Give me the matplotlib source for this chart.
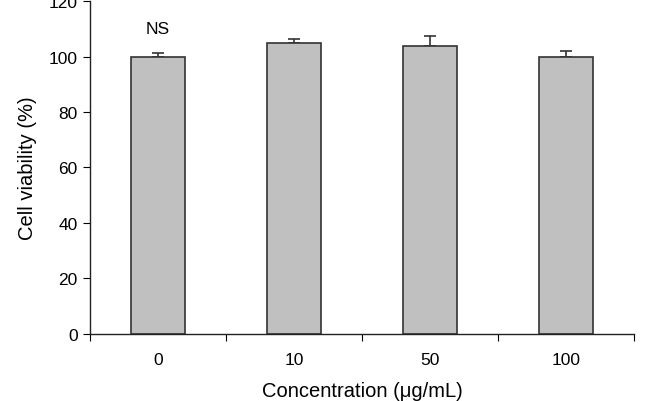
import numpy as np
import matplotlib.pyplot as plt

plt.rcParams['font.family'] = ['Liberation Sans', 'DejaVu Sans']

# Data
concentrations = ['0', '10', '50', '100']
viability = [100.0, 104.7, 103.7, 99.7]
err_up = [1.3, 1.5, 3.6, 2.3]

fig = plt.figure(figsize=(6.5, 4.02), dpi=100)
ax = fig.add_axes([0.1385, 0.1667, 0.8365, 0.8283])

x = np.arange(len(concentrations)) + 0.5
ax.bar(x, viability, width=0.4, color='#c0c0c0', edgecolor='#333333', linewidth=1.2, zorder=2)
ax.errorbar(x, viability, yerr=[np.zeros(len(err_up)), err_up], fmt='none',
            ecolor='#333333', elinewidth=1.2, capsize=4, capthick=1.2, zorder=1)

ax.text(x[0], 107.5, 'NS', ha='center', va='bottom', fontsize=12.5)

ax.set_xlim(0, 4)
ax.set_ylim(0, 120)
ax.set_yticks(np.arange(0, 121, 20))
ax.set_xticks(np.arange(0, 5))
ax.set_xticklabels([])
ax.set_xticks(x, minor=True)
ax.set_xticklabels(concentrations, minor=True)
ax.tick_params(axis='x', which='minor', length=0, pad=13, labelsize=12.5)
ax.tick_params(axis='x', which='major', length=5, direction='out')
ax.tick_params(axis='y', length=5, direction='out', labelsize=12.5, pad=4)

for s in ['top', 'right']:
    ax.spines[s].set_visible(False)
for s in ['left', 'bottom']:
    ax.spines[s].set_linewidth(1.0)
    ax.spines[s].set_color('#222222')

ax.set_ylabel('Cell viability (%)', fontsize=14.5, labelpad=8)
ax.set_xlabel('Concentration (μg/mL)', fontsize=14.5, labelpad=10)

plt.savefig('out.png', dpi=100)
